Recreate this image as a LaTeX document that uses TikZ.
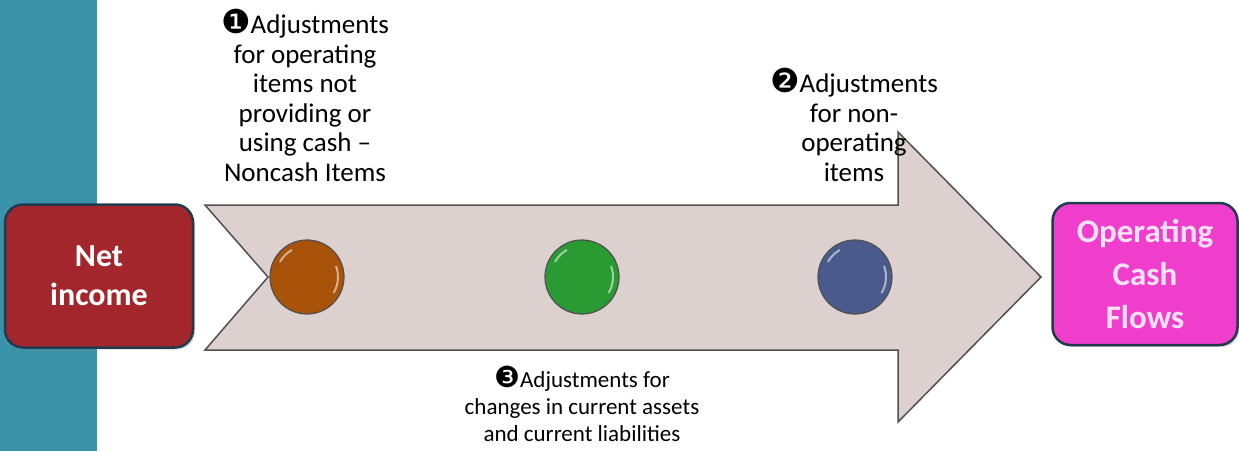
\documentclass[tikz,border=0pt]{standalone}
\usepackage{fontspec}
\setmainfont{Carlito}
\newfontfamily\dingfont{DejaVu Sans}
\usetikzlibrary{shadows}
\definecolor{tealband}{HTML}{3A93A8}
\definecolor{netred}{HTML}{A3262C}
\definecolor{opspink}{HTML}{EE3ECB}
\definecolor{arrowfill}{HTML}{DDD1D0}
\definecolor{arrowline}{HTML}{505050}
\definecolor{boxedge}{HTML}{223B4C}
\definecolor{cbrown}{HTML}{A8520A}
\definecolor{cgreen}{HTML}{2A9A32}
\definecolor{cblue}{HTML}{4A5A8C}
\definecolor{pinktext}{HTML}{FCE0F6}
\tikzset{
  resultbox/.style={draw=boxedge, line width=2.5pt, rounded corners=18pt,
    drop shadow={shadow xshift=2pt, shadow yshift=-2pt, opacity=0.35},
    text=white, align=center},
  stepball/.style={circle, draw=arrowline, line width=1.2pt, minimum size=74pt, inner sep=0pt},
  notetext/.style={align=center, inner sep=0pt, anchor=north},
  gloss/.style={line width=2pt, white, opacity=0.55, line cap=round}
}
\newcommand{\dnum}[2]{{\dingfont\fontsize{#1}{24}\selectfont #2}}
\begin{document}
\begin{tikzpicture}[x=1pt,y=-1pt]
\useasboundingbox (0,0) rectangle (1239,451);
\fill[white] (0,0) rectangle (1239,451);
\fill[tealband] (0,0) rectangle (97,451);
% big arrow
\draw[arrowline, line width=1.5pt, fill=arrowfill, line join=miter]
  (205,205) -- (898,205) -- (898,132) -- (1041,277) -- (898,422) -- (898,350)
  -- (205,350) -- (268,277) -- cycle;
% boxes
\node[resultbox, fill=netred, font=\fontsize{32}{39}\selectfont\bfseries, minimum width=188pt, minimum height=143pt] (net) at (99,276) {Net\\income};
\node[resultbox, fill=opspink, text=pinktext, font=\fontsize{33}{43}\selectfont\bfseries, minimum width=185pt, minimum height=142pt] (ocf) at (1145,274) {Operating\\Cash\\Flows};
% balls
\node[stepball, fill=cbrown] (b1) at (307,277) {};
\node[stepball, fill=cgreen] (b2) at (582,277) {};
\node[stepball, fill=cblue] (b3) at (855,277) {};
\foreach \b in {b1,b2,b3}{
  \draw[gloss] (\b.center) ++(150:31pt) arc[start angle=150, end angle=120, radius=31pt];
  \draw[gloss] (\b.center) ++(-30:31pt) arc[start angle=-30, end angle=20, radius=31pt];
}
% labels
\node[notetext, font=\fontsize{27}{29.6}\selectfont] (t1) at (305,9) {\dnum{33}{❶}Adjustments\\for operating\\items not\\providing or\\using cash –\\Noncash Items};
\node[notetext, font=\fontsize{27}{29.6}\selectfont] (t2) at (854,68) {\dnum{33}{❷}Adjustments\\for non-\\operating\\items};
\node[notetext, font=\fontsize{23}{27}\selectfont] (t3) at (582,366) {\dnum{29}{❸}Adjustments for\\changes in current assets\\and current liabilities};
\end{tikzpicture}
\end{document}
